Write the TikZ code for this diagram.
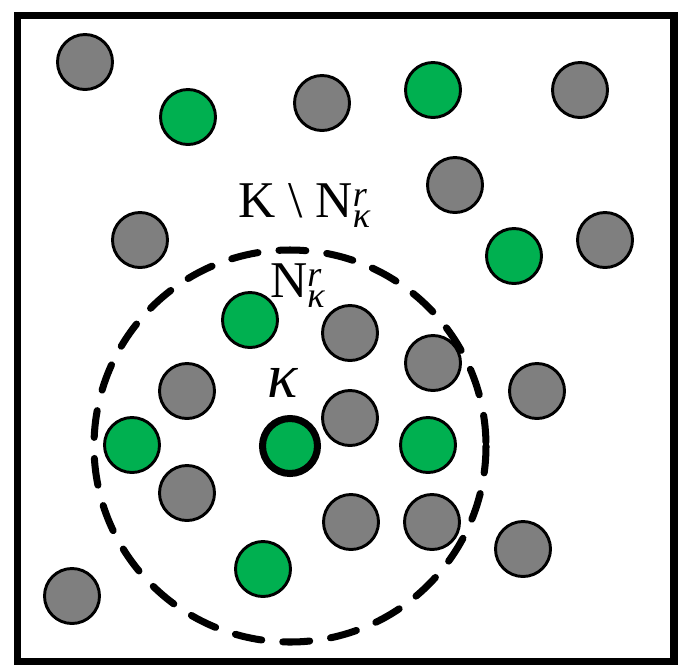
\documentclass[tikz,border=0pt]{standalone}
\usepackage{amsmath}
\usepackage{fontspec}
\setmainfont{Liberation Serif}
\definecolor{ballgray}{RGB}{127,127,127}
\definecolor{ballgreen}{RGB}{0,176,80}
\newcommand{\nbset}{N$^{\textit{r}}_{\textit{κ}}$}

\begin{document}
\begin{tikzpicture}[x=0.03cm,y=-0.03cm,
    ball/.style={circle,draw=black,line width=2.5pt,minimum size=1.65cm,inner sep=0pt},
    grayball/.style={ball,fill=ballgray},
    greenball/.style={ball,fill=ballgreen},
    lbl/.style={inner sep=0pt,font=\fontsize{44}{50}\selectfont},
    hood/.style={line width=6pt,line cap=round,dash pattern=on 23pt off 18pt}]
    \useasboundingbox (0,0) rectangle (678,664);
    \draw[line width=6pt] (17.5,15.5) rectangle (674,661.5);
    \node[grayball] (g1) at (85,62) {};
    \node[grayball] (g2) at (322,103) {};
    \node[grayball] (g3) at (580,90) {};
    \node[grayball] (g4) at (455,185) {};
    \node[grayball] (g5) at (140,240) {};
    \node[grayball] (g6) at (605,240) {};
    \node[grayball] (g7) at (350,333) {};
    \node[grayball] (g8) at (433,363) {};
    \node[grayball] (g9) at (187,391) {};
    \node[grayball] (g10) at (537,391) {};
    \node[grayball] (g11) at (350,418) {};
    \node[grayball] (g12) at (187,493) {};
    \node[grayball] (g13) at (351,522) {};
    \node[grayball] (g14) at (432,522) {};
    \node[grayball] (g15) at (523,549) {};
    \node[grayball] (g16) at (72,596) {};
    \node[greenball] (e1) at (188,117) {};
    \node[greenball] (e2) at (433,90) {};
    \node[greenball] (e3) at (514,256) {};
    \node[greenball] (e4) at (250,320) {};
    \node[greenball] (e5) at (132,445) {};
    \node[greenball] (e6) at (428,445) {};
    \node[greenball] (e7) at (263,569) {};
    \node[greenball,line width=6pt] (kappa) at (290,446) {};
    \draw[hood] (kappa.center) circle[radius=196];
    \node[lbl,anchor=base west] (outer) at (238,217) {K \textbackslash{} \nbset};
    \node[lbl,anchor=base west] (inner) at (270,297) {\nbset};
    \node[inner sep=0pt,font=\fontsize{54}{60}\selectfont] (klbl) at (283,383) {\textit{κ}};
\end{tikzpicture}
\end{document}
